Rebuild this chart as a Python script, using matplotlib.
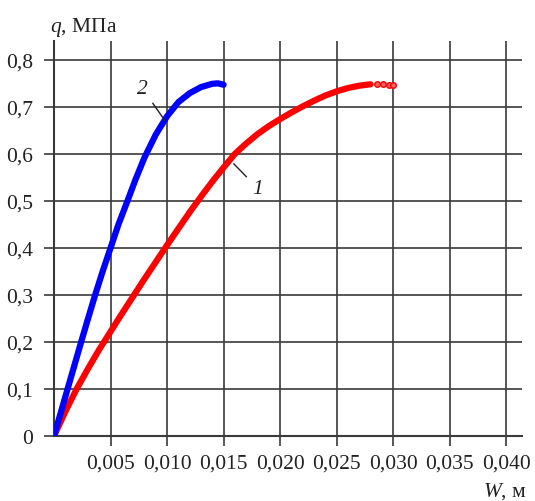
import matplotlib
matplotlib.use("Agg")
import matplotlib.pyplot as plt

# DATA ----------------------------------------------------------------------- #
# curve 1 (red), W in m, q in MPa
w_1 = [0, 0.001, 0.002, 0.003, 0.004, 0.005, 0.006, 0.007, 0.008, 0.009, 0.010,
       0.011, 0.012, 0.013, 0.014, 0.015, 0.016, 0.017, 0.018, 0.019, 0.020,
       0.021, 0.022, 0.023, 0.024, 0.025, 0.026, 0.027, 0.028]
q_1 = [0, 0.052, 0.100, 0.143, 0.184, 0.222, 0.260, 0.297, 0.334, 0.370, 0.406,
       0.441, 0.476, 0.509, 0.541, 0.571, 0.600, 0.622, 0.642, 0.659, 0.674,
       0.688, 0.701, 0.713, 0.724, 0.733, 0.740, 0.745, 0.748]
w_1_tail = [0.0286, 0.0291, 0.0296, 0.0300]
q_1_tail = [0.749, 0.748, 0.747, 0.746]

# curve 2 (blue)
w_2 = [0, 0.0006, 0.0012, 0.0018, 0.0024, 0.0030, 0.0036, 0.0043, 0.0050, 0.0057,
       0.0065, 0.0072, 0.0080, 0.0090, 0.0100, 0.0110, 0.0120, 0.0130, 0.0140,
       0.0145, 0.0150]
q_2 = [0, 0.050, 0.100, 0.150, 0.200, 0.249, 0.297, 0.350, 0.400, 0.450,
       0.500, 0.545, 0.592, 0.641, 0.680, 0.710, 0.729, 0.742, 0.749,
       0.750, 0.747]

x_ticks = [0.005, 0.010, 0.015, 0.020, 0.025, 0.030, 0.035, 0.040]
x_labels = ["0,005", "0,010", "0,015", "0,020", "0,025", "0,030", "0,035", "0,040"]
y_ticks = [0, 0.1, 0.2, 0.3, 0.4, 0.5, 0.6, 0.7, 0.8]
y_labels = ["0", "0,1", "0,2", "0,3", "0,4", "0,5", "0,6", "0,7", "0,8"]

# STYLE ---------------------------------------------------------------------- #
plt.rcParams["font.family"] = ["Liberation Serif", "DejaVu Serif"]
plt.rcParams["mathtext.fontset"] = "custom"
plt.rcParams["mathtext.it"] = "Liberation Serif:italic"
plt.rcParams["mathtext.rm"] = "Liberation Serif"

GRID_COLOR = "#3a3a3a"
GRID_LW = 1.2
TEXT_COLOR = "#222222"

fig = plt.figure(figsize=(5.35, 5.02), dpi=100)
ax = fig.add_axes([0.101, 0.1295, 0.8747, 0.7868])

ax.set_xlim(0, 0.0414)
ax.set_ylim(0, 0.84)

ax.plot(w_1, q_1, color="#ff0000", lw=4.5, solid_capstyle="round",
        solid_joinstyle="round", zorder=3)
ax.plot(w_1_tail, q_1_tail, ls="none", marker="o", ms=4, mfc="#ff6060",
        mec="#ff0000", mew=1, zorder=3)
ax.plot(w_2, q_2, color="#0000ff", lw=4.5, solid_capstyle="round",
        solid_joinstyle="round", zorder=3)

ax.set_xticks(x_ticks)
ax.set_xticklabels(x_labels)
ax.set_yticks(y_ticks)
ax.set_yticklabels(y_labels)
ax.tick_params(axis="both", direction="out", length=7, width=GRID_LW,
               color=GRID_COLOR, labelsize=15.5, labelcolor=TEXT_COLOR)
ax.tick_params(axis="x", pad=6)
ax.tick_params(axis="y", pad=8)

ax.grid(True, color=GRID_COLOR, lw=GRID_LW)
for side in ["top", "right"]:
    ax.spines[side].set_visible(False)
for side in ["left", "bottom"]:
    ax.spines[side].set_color(GRID_COLOR)
    ax.spines[side].set_linewidth(GRID_LW + 0.3)

# curve labels with leader lines
ax.annotate("2", xy=(0.0098, 0.671), xytext=(0.0078, 0.740), fontsize=15.5,
            style="italic", ha="center", va="center", color=TEXT_COLOR,
            arrowprops=dict(arrowstyle="-", color=TEXT_COLOR, lw=1,
                            shrinkA=3, shrinkB=0))
ax.annotate("1", xy=(0.0159, 0.579), xytext=(0.0180, 0.527), fontsize=15.5,
            style="italic", ha="center", va="center", color=TEXT_COLOR,
            arrowprops=dict(arrowstyle="-", color=TEXT_COLOR, lw=1,
                            shrinkA=3, shrinkB=0))

fig.text(0.093, 0.945, r"$q$, МПа", fontsize=15.5, ha="left", va="center", color=TEXT_COLOR)
fig.text(0.985, 0.020, r"$W$, м", fontsize=15.5, ha="right", va="center", color=TEXT_COLOR)

fig.savefig("out.png", dpi=100)
